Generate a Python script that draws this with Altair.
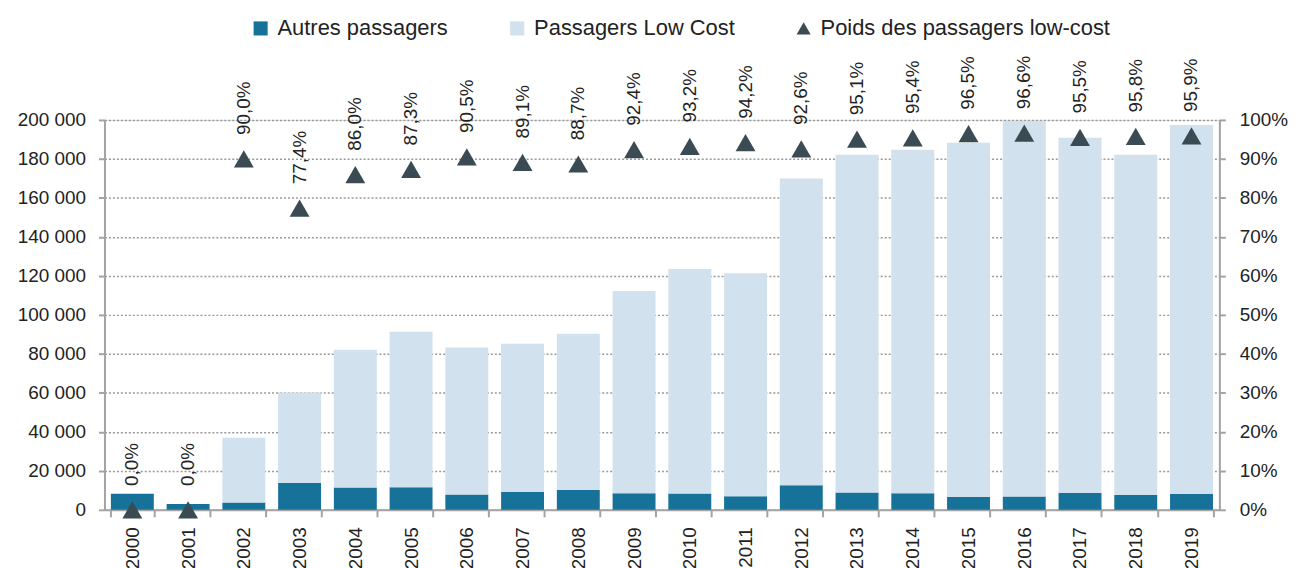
import altair as alt
import pandas as pd

years = ["2000", "2001", "2002", "2003", "2004", "2005", "2006", "2007", "2008", "2009",
         "2010", "2011", "2012", "2013", "2014", "2015", "2016", "2017", "2018", "2019"]
autres = [8200, 3000, 3700, 13800, 11500, 11600, 7900, 9300, 10200, 8500,
          8400, 7000, 12600, 8900, 8500, 6600, 6800, 8600, 7600, 8100]
lowcost = [0, 0, 33300, 46400, 70600, 79700, 75300, 75900, 80100, 103700,
           115100, 114400, 157300, 173200, 176200, 181700, 192700, 182200, 174500, 189300]
poids = [0.0, 0.0, 90.0, 77.4, 86.0, 87.3, 90.5, 89.1, 88.7, 92.4,
         93.2, 94.2, 92.6, 95.1, 95.4, 96.5, 96.6, 95.5, 95.8, 95.9]

series = ["Autres passagers", "Passagers Low Cost", "Poids des passagers low-cost"]
colors = ["#17729a", "#d1e1ed", "#3a4b53"]
shapes = ["square", "square", "triangle-up"]

bars_df = pd.DataFrame(
    [{"annee": y, "serie": series[0], "ord": 0, "val": a} for y, a in zip(years, autres)]
    + [{"annee": y, "serie": series[1], "ord": 1, "val": l} for y, l in zip(years, lowcost)]
)
pts_df = pd.DataFrame({"annee": years, "serie": series[2], "p": [v / 100 for v in poids]})

FONT = "Liberation Sans"
TXT = "#222222"
GRAY = "#a3a3a3"

x_enc = alt.X("annee:N", sort=years, title=None,
              scale=alt.Scale(paddingInner=0.23, paddingOuter=0.115),
              axis=alt.Axis(labelAngle=270, labelFontSize=19, labelColor=TXT, labelFont=FONT,
                            domainColor=GRAY, domainWidth=2, tickColor=GRAY, tickWidth=2,
                            tickSize=7, tickBand="extent", labelPadding=10, grid=False))

color_enc = alt.Color("serie:N", scale=alt.Scale(domain=series, range=colors),
                      legend=alt.Legend(orient="none", legendX=146, legendY=-103,
                                        direction="horizontal", columns=3, title=None,
                                        labelFontSize=22, labelFont=FONT, labelColor=TXT,
                                        symbolSize=200, columnPadding=58, labelOffset=6,
                                        padding=0, labelLimit=0, symbolStrokeWidth=0))

bars = alt.Chart(bars_df).mark_bar().encode(
    x=x_enc,
    y=alt.Y("val:Q", stack="zero", title=None,
            scale=alt.Scale(domain=[0, 200000], nice=False),
            axis=alt.Axis(values=list(range(0, 200001, 20000)), format=",d",
                          labelFontSize=19, labelColor=TXT, labelFont=FONT,
                          domainColor=GRAY, domainWidth=2, tickColor=GRAY, tickWidth=2,
                          tickSize=6, labelPadding=13, grid=True, gridColor="#999999",
                          gridDash=[2, 2], gridWidth=1.5)),
    color=color_enc,
    order=alt.Order("ord:Q", sort="ascending"),
)

pts = alt.Chart(pts_df).mark_point(filled=True, size=400, opacity=1).encode(
    x=alt.X("annee:N", sort=years),
    y=alt.Y("p:Q", title=None, scale=alt.Scale(domain=[0, 1], nice=False),
            axis=alt.Axis(orient="right", values=[i / 10 for i in range(11)], format=".0%",
                          labelFontSize=19, labelColor=TXT, labelFont=FONT,
                          domainColor=GRAY, domainWidth=2, tickColor=GRAY, tickWidth=2,
                          tickSize=6, labelPadding=14, grid=False)),
    color=alt.Color("serie:N", scale=alt.Scale(domain=series, range=colors)),
    shape=alt.Shape("serie:N", scale=alt.Scale(domain=series, range=shapes)),
)

labels = alt.Chart(pts_df).mark_text(angle=270, align="left", baseline="middle", dx=24,
                                     fontSize=19, font=FONT, color=TXT).encode(
    x=alt.X("annee:N", sort=years),
    y=alt.Y("p:Q", scale=alt.Scale(domain=[0, 1], nice=False), axis=None),
    text=alt.Text("p:Q", format=".1%"),
)

chart = alt.layer(bars, pts, labels).resolve_scale(y="independent").properties(
    width=1121, height=392,
    padding={"left": 9, "top": 8, "right": 0, "bottom": 5},
).configure_view(stroke=None).configure(
    locale={"number": {"decimal": ",", "thousands": " ", "grouping": [3],
                       "currency": ["", " €"]}}
)

chart.save("out.html", embed_options={"renderer": "svg", "actions": False})
